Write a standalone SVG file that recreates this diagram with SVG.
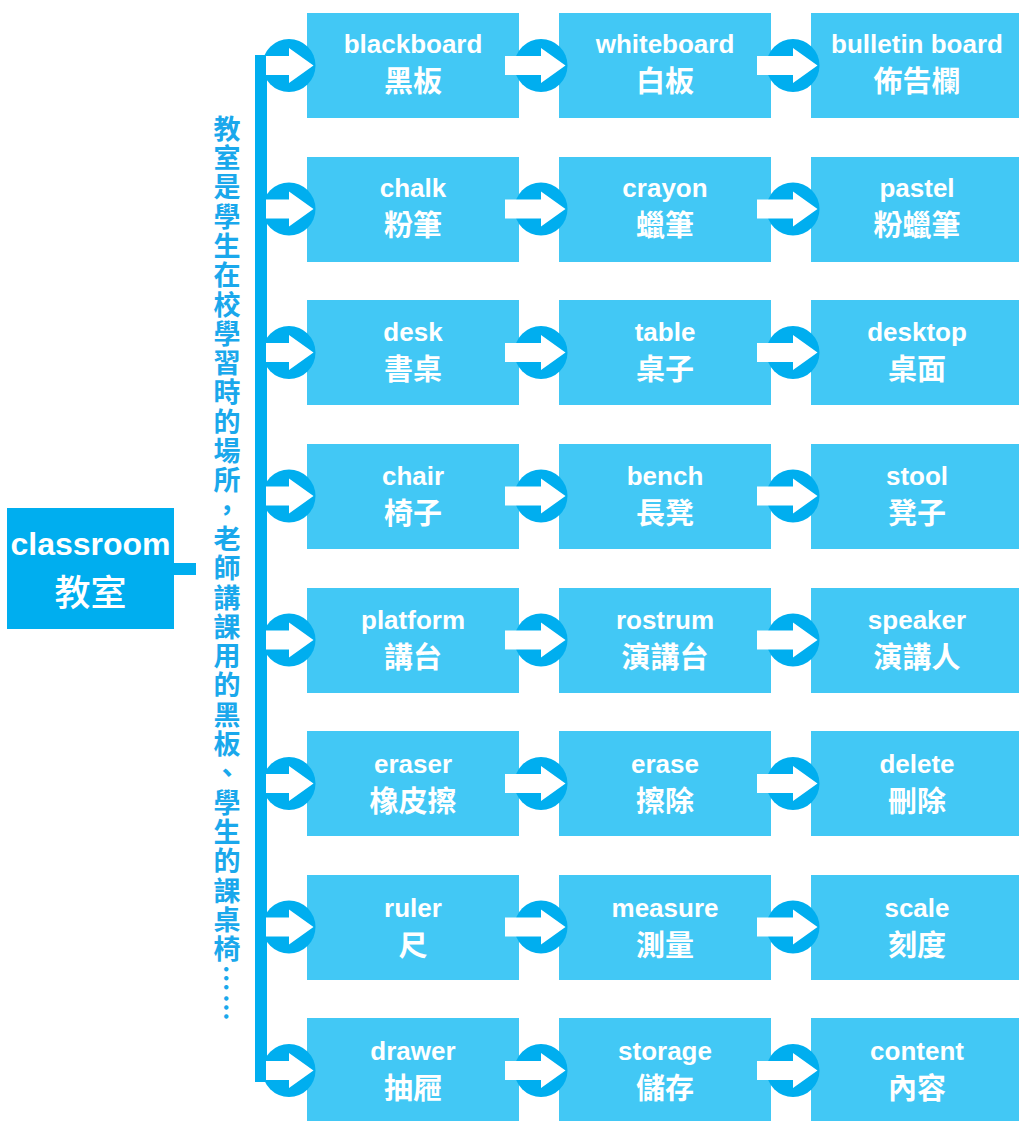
<svg xmlns="http://www.w3.org/2000/svg" width="1019" height="1121" viewBox="0 0 1019 1121">
<defs>
<style>
.box{fill:#42C8F5}
.dark{fill:#00AEEF}
.en{font-family:"Liberation Sans",Arial,sans-serif;font-weight:bold;font-size:26px;fill:#fff;text-anchor:middle}
.zh{font-family:"Noto Sans CJK TC","Noto Sans CJK SC",sans-serif;font-weight:bold;font-size:29px;fill:#fff;text-anchor:middle}
.vt{font-family:"Noto Sans CJK TC","Noto Sans CJK SC",sans-serif;font-weight:bold;font-size:27px;fill:#1AA8EC;writing-mode:vertical-rl;letter-spacing:2.3px}
</style>
<g id="arrow">
<circle cx="0" cy="0" r="26.5" fill="#00AEEF"/>
<path d="M-36,-9.5 H0 V-17.5 L24.5,0 L0,17.5 V9.5 H-36 Z" fill="#fff"/>
</g>
<g id="arrow0">
<circle cx="0" cy="0" r="26.5" fill="#00AEEF"/>
<path d="M-23,-9.5 H0 V-17.5 L24.5,0 L0,17.5 V9.5 H-23 Z" fill="#fff"/>
</g>
</defs>
<rect width="1019" height="1121" fill="#fff"/>

<g id="root">
<rect x="7" y="508" width="167" height="121" class="dark"/>
<text x="90.5" y="555" font-family="Liberation Sans,Arial,sans-serif" font-size="32" font-weight="bold" fill="#fff" text-anchor="middle">classroom</text>
<text x="90.5" y="606" font-family="Noto Sans CJK TC,Noto Sans CJK SC,sans-serif" font-size="36" font-weight="500" fill="#fff" text-anchor="middle">教室</text>
</g>

<g id="note">
<text x="227" y="115" class="vt">教室是學生在校學習時的場所，老師講課用的黑板、學生的課桌椅……</text>
</g>

<g id="connectors">
<rect x="174" y="563" width="22" height="12" class="dark"/>
<rect x="255" y="55" width="12" height="1027" class="dark"/>
</g>

<g id="nodes">
<g id="r1">
<rect class="box" x="307" y="13" width="212" height="105"/><text class="en" x="413" y="53">blackboard</text><text class="zh" x="413" y="92">黑板</text>
<rect class="box" x="559" y="13" width="212" height="105"/><text class="en" x="665" y="53">whiteboard</text><text class="zh" x="665" y="92">白板</text>
<rect class="box" x="811" y="13" width="212" height="105"/><text class="en" x="917" y="53">bulletin board</text><text class="zh" x="917" y="92">佈告欄</text>
</g>
<g id="r2">
<rect class="box" x="307" y="157" width="212" height="105"/><text class="en" x="413" y="197">chalk</text><text class="zh" x="413" y="236">粉筆</text>
<rect class="box" x="559" y="157" width="212" height="105"/><text class="en" x="665" y="197">crayon</text><text class="zh" x="665" y="236">蠟筆</text>
<rect class="box" x="811" y="157" width="212" height="105"/><text class="en" x="917" y="197">pastel</text><text class="zh" x="917" y="236">粉蠟筆</text>
</g>
<g id="r3">
<rect class="box" x="307" y="300" width="212" height="105"/><text class="en" x="413" y="341">desk</text><text class="zh" x="413" y="380">書桌</text>
<rect class="box" x="559" y="300" width="212" height="105"/><text class="en" x="665" y="341">table</text><text class="zh" x="665" y="380">桌子</text>
<rect class="box" x="811" y="300" width="212" height="105"/><text class="en" x="917" y="341">desktop</text><text class="zh" x="917" y="380">桌面</text>
</g>
<g id="r4">
<rect class="box" x="307" y="444" width="212" height="105"/><text class="en" x="413" y="485">chair</text><text class="zh" x="413" y="524">椅子</text>
<rect class="box" x="559" y="444" width="212" height="105"/><text class="en" x="665" y="485">bench</text><text class="zh" x="665" y="524">長凳</text>
<rect class="box" x="811" y="444" width="212" height="105"/><text class="en" x="917" y="485">stool</text><text class="zh" x="917" y="524">凳子</text>
</g>
<g id="r5">
<rect class="box" x="307" y="588" width="212" height="105"/><text class="en" x="413" y="629">platform</text><text class="zh" x="413" y="668">講台</text>
<rect class="box" x="559" y="588" width="212" height="105"/><text class="en" x="665" y="629">rostrum</text><text class="zh" x="665" y="668">演講台</text>
<rect class="box" x="811" y="588" width="212" height="105"/><text class="en" x="917" y="629">speaker</text><text class="zh" x="917" y="668">演講人</text>
</g>
<g id="r6">
<rect class="box" x="307" y="731" width="212" height="105"/><text class="en" x="413" y="773">eraser</text><text class="zh" x="413" y="812">橡皮擦</text>
<rect class="box" x="559" y="731" width="212" height="105"/><text class="en" x="665" y="773">erase</text><text class="zh" x="665" y="812">擦除</text>
<rect class="box" x="811" y="731" width="212" height="105"/><text class="en" x="917" y="773">delete</text><text class="zh" x="917" y="812">刪除</text>
</g>
<g id="r7">
<rect class="box" x="307" y="875" width="212" height="105"/><text class="en" x="413" y="917">ruler</text><text class="zh" x="413" y="956">尺</text>
<rect class="box" x="559" y="875" width="212" height="105"/><text class="en" x="665" y="917">measure</text><text class="zh" x="665" y="956">測量</text>
<rect class="box" x="811" y="875" width="212" height="105"/><text class="en" x="917" y="917">scale</text><text class="zh" x="917" y="956">刻度</text>
</g>
<g id="r8">
<rect class="box" x="307" y="1018" width="212" height="105"/><text class="en" x="413" y="1060">drawer</text><text class="zh" x="413" y="1099">抽屜</text>
<rect class="box" x="559" y="1018" width="212" height="105"/><text class="en" x="665" y="1060">storage</text><text class="zh" x="665" y="1099">儲存</text>
<rect class="box" x="811" y="1018" width="212" height="105"/><text class="en" x="917" y="1060">content</text><text class="zh" x="917" y="1099">內容</text>
</g>
</g>

<g id="arrows">
<use href="#arrow0" x="289" y="65.5"/><use href="#arrow" x="541" y="65.5"/><use href="#arrow" x="793" y="65.5"/>
<use href="#arrow0" x="289" y="209"/><use href="#arrow" x="541" y="209"/><use href="#arrow" x="793" y="209"/>
<use href="#arrow0" x="289" y="352.5"/><use href="#arrow" x="541" y="352.5"/><use href="#arrow" x="793" y="352.5"/>
<use href="#arrow0" x="289" y="496"/><use href="#arrow" x="541" y="496"/><use href="#arrow" x="793" y="496"/>
<use href="#arrow0" x="289" y="640"/><use href="#arrow" x="541" y="640"/><use href="#arrow" x="793" y="640"/>
<use href="#arrow0" x="289" y="783.5"/><use href="#arrow" x="541" y="783.5"/><use href="#arrow" x="793" y="783.5"/>
<use href="#arrow0" x="289" y="927"/><use href="#arrow" x="541" y="927"/><use href="#arrow" x="793" y="927"/>
<use href="#arrow0" x="289" y="1070.5"/><use href="#arrow" x="541" y="1070.5"/><use href="#arrow" x="793" y="1070.5"/>
</g>
</svg>
